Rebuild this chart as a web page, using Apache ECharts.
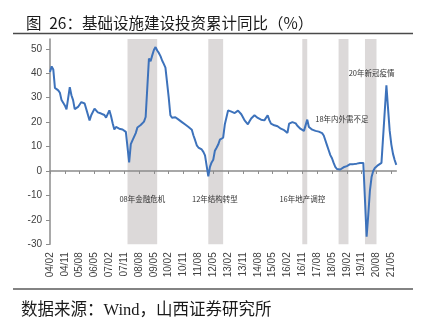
<!DOCTYPE html>
<html><head><meta charset="utf-8">
<script src="https://cdn.jsdelivr.net/npm/echarts@6/dist/echarts.min.js"></script>
<style>html,body{margin:0;padding:0;background:#fff}#c{width:421px;height:328px}</style>
</head><body><div id="c"></div>
<script>
// Months from 2004-02 to 2021-08 (January values not published -> null)
const startYear = 2004, startMonth = 2, endYear = 2021, endMonth = 8;
const v2004 = [40.5, 42.8, 41.5, 34, 33.3, 33, 32, 29, 27.9, 26.8, 25.2];
const v2005 = [null, 34.3, 31, 29, 25.3, 25.8, 26.2, 27, 28.2, 27.8, 27.6, 27.2];
const v2006 = [null, 20.7, 22.8, 23.5, 25.5, 24.8, 24, 23.8, 23.5, 23.2, 22.9, 21.8];
const v2007 = [null, 24.8, 22.5, 19.5, 17, 18, 17.6, 17.3, 17.2, 17, 16.9, 16];
const v2008 = [null, 3.5, 11, 12.5, 13.3, 15.5, 17.8, 18.5, 18.8, 19.6, 20.2, 22.1];
const v2009 = [null, 46, 44.9, 47.3, 49.5, 50.7, 49.3, 48.3, 47, 45.2, 43.8, 42.3];
const v2010 = [null, 30, 22.8, 21.8, 22.2, 22, 21.3, 21, 20.3, 20, 19.6, 19];
const v2011 = [null, 18, 17.5, 16.9, 14.5, 12.6, 10.5, 9.6, 9.2, 8.8, 7.8, 6.4];
const v2012 = [null, -2.2, 1.7, 3.5, 4.6, 8.3, 9.5, 10.8, 12.8, 13.5, 13.6, 19];
const v2013 = [null, 24.8, 25.2, 24.3, 24, 23.7, 24, 24.7, 24.3, 23.2, 22, 20.7];
const v2014 = [null, 19.1, 20.3, 21.5, 22.3, 22.8, 22.4, 21.7, 21.1, 21, 21, 20.7];
const v2015 = [null, 22.8, 20.8, 19.4, 19, 18.7, 18.5, 18.3, 17.8, 17.3, 17, 16.7];
const v2016 = [null, 15.6, 19.4, 19.8, 20, 20.4, 19.5, 18.5, 17.8, 17.2, 16.5, 16.4];
const v2017 = [null, 21, 18, 17.5, 16.9, 16.6, 16.4, 16.3, 16.1, 16, 15.5, 14.5];
const v2018 = [null, 10.5, 8.5, 6.5, 5.2, 3.3, 1.7, 0.8, 0.3, 0.6, 1, 1.5];
const v2019 = [null, 2, 2.5, 2.8, 2.8, 2.8, 2.7, 3, 3.1, 3.3, 3.5, 3.3];
const v2020 = [null, -26.9, -18, -8, -2.5, 0, 1.2, 2, 2.4, 3, 3.3, 3.4];
const v2021 = [null, 35, 25.5, 16.4, 10.8, 7, 4.5, 2.5];

const bands = [['08/01', '09/07'], ['12/02', '12/11'], ['16/11', '17/02'], ['18/09', '19/03'], ['20/01', '20/08']];
const notes = [
  ['08年金融危机', '08/10', -11.5],
  ['12年结构转型', '12/06', -11.5],
  ['16年地产调控', '16/11', -11.5],
  ['18年内外需不足', '18/11', 21],
  ['20年新冠疫情', '20/05', 40]
];
const yTicks = [-30, -20, -10, 0, 10, 20, 30, 40, 50];
const titleText = '图\u200226：基础设施建设投资累计同比（%）';
const sourceText = '数据来源：Wind，山西证券研究所';

const values = [].concat(v2004, v2005, v2006, v2007, v2008, v2009, v2010, v2011, v2012,
  v2013, v2014, v2015, v2016, v2017, v2018, v2019, v2020, v2021);
const cats = [];
for (let y = startYear, m = startMonth; y < endYear || (y === endYear && m <= endMonth); ) {
  cats.push(String(y % 100).padStart(2, '0') + '/' + String(m).padStart(2, '0'));
  m++; if (m > 12) { m = 1; y++; }
}

const chart = echarts.init(document.getElementById('c'), null, {renderer: 'canvas'});
const lab = {fontSize: 10, color: '#404040', fontFamily: 'Liberation Sans, Arial, sans-serif'};
chart.setOption({
  animation: false,
  backgroundColor: '#fff',
  title: {
    text: titleText, left: 21, top: 10,
    textStyle: {fontSize: 15.5, fontWeight: 'normal', color: '#1a1a1a', fontFamily: 'Noto Sans CJK SC'}
  },
  graphic: [
    {type: 'line', shape: {x1: 13, y1: 33.5, x2: 413, y2: 33.5}, style: {stroke: '#4a4a4a', lineWidth: 1.6}},
    {type: 'line', shape: {x1: 13, y1: 289, x2: 413, y2: 289}, style: {stroke: '#5a5a5a', lineWidth: 1.6}},
    {type: 'text', left: 21, top: 302, style: {text: sourceText, fontSize: 16.5, fill: '#1a1a1a',
      fontFamily: "'Liberation Serif', 'Noto Sans CJK SC'"}}
  ],
  grid: {left: 50, right: 24.7, top: 39, bottom: 83.7},
  xAxis: [
    {type: 'category', data: cats, boundaryGap: false, position: 'bottom',
     axisLine: {show: false, onZero: false}, axisTick: {show: false},
     axisLabel: Object.assign({interval: 8, rotate: 90, margin: 8}, lab), splitLine: {show: false}},
    {type: 'category', data: cats, boundaryGap: false, position: 'bottom', z: 2,
     axisLine: {onZero: true, lineStyle: {color: '#8c8c8c', width: 1.5}},
     axisTick: {interval: 8, length: 3, lineStyle: {color: '#8c8c8c'}},
     axisLabel: {show: false}, splitLine: {show: false}}
  ],
  yAxis: {
    type: 'value', min: -30, max: 54, interval: 10, z: 2,
    axisLine: {show: true, lineStyle: {color: '#8c8c8c', width: 1.5}},
    axisTick: {show: true, length: 4, customValues: yTicks, lineStyle: {color: '#8c8c8c'}},
    axisLabel: Object.assign({customValues: yTicks, margin: 8}, lab),
    splitLine: {show: false}
  },
  series: [{
    type: 'line', data: values, xAxisIndex: 0, showSymbol: false, connectNulls: true, z: 3,
    lineStyle: {color: '#3d72bb', width: 2},
    markArea: {silent: true, itemStyle: {color: '#dcd9d9'},
      data: bands.map(b => [{xAxis: b[0]}, {xAxis: b[1]}])},
    markPoint: {silent: true, symbol: 'circle', symbolSize: 0,
      label: {show: true, position: 'inside', formatter: '{b}', fontSize: 7.5, color: '#333',
        fontFamily: 'Noto Sans CJK SC'},
      data: notes.map(n => ({name: n[0], coord: [n[1], n[2]]}))}
  }]
});
</script></body></html>
